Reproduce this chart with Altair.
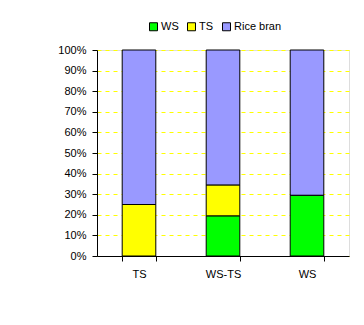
import altair as alt
import pandas as pd

categories = ["TS", "WS-TS", "WS"]
ws = [0, 19.5, 29.5]
ts = [25, 15, 0]
rice_bran = [75, 65.5, 70.5]

series_names = ["WS", "TS", "Rice bran"]
series_colors = ["#00FF00", "#FFFF00", "#9999FF"]
y_ticks = [0, 0.1, 0.2, 0.3, 0.4, 0.5, 0.6, 0.7, 0.8, 0.9, 1.0]

rows = []
for i, c in enumerate(categories):
    for k, (name, vals) in enumerate(zip(series_names, [ws, ts, rice_bran])):
        rows.append({"cat": c, "series": name, "value": vals[i], "order": k})
df = pd.DataFrame(rows)

chart = alt.Chart(df).mark_bar(stroke="black", strokeWidth=1).encode(
    x=alt.X("cat:N", sort=categories,
            scale=alt.Scale(paddingInner=0.6, paddingOuter=0.3),
            axis=alt.Axis(title=None, labelAngle=0, tickBand="extent",
                          domainColor="black", tickColor="black",
                          labelColor="black", labelFont="Liberation Sans",
                          labelFontSize=11, labelPadding=7, tickSize=5,
                          grid=False)),
    y=alt.Y("value:Q", stack="normalize",
            scale=alt.Scale(domain=[0, 1]),
            axis=alt.Axis(title=None, format="%", values=y_ticks, labelOverlap=False,
                          domainColor="black", tickColor="black",
                          labelColor="black", labelFont="Liberation Sans",
                          labelFontSize=11, tickSize=5, labelPadding=6,
                          grid=True, gridColor="#FFFF00", gridDash=[4, 4])),
    color=alt.Color("series:N", sort=series_names,
                    scale=alt.Scale(domain=series_names, range=series_colors),
                    legend=alt.Legend(title=None, orient="none", direction="horizontal",
                                      legendX=51, legendY=-29, symbolType="square",
                                      symbolSize=64, symbolStrokeColor="black",
                                      symbolStrokeWidth=1, labelFont="Liberation Sans",
                                      labelFontSize=11, labelColor="black",
                                      columnPadding=6, labelOffset=2, padding=0)),
    order=alt.Order("order:Q"),
).properties(
    width=252, height=206,
    padding={"left": 97, "top": 50, "right": 15, "bottom": 69},
    autosize=alt.AutoSizeParams(type="none"),
).configure_view(stroke=None).configure(background="white")

chart.save("out.html", embed_options={"renderer": "svg", "actions": False})
